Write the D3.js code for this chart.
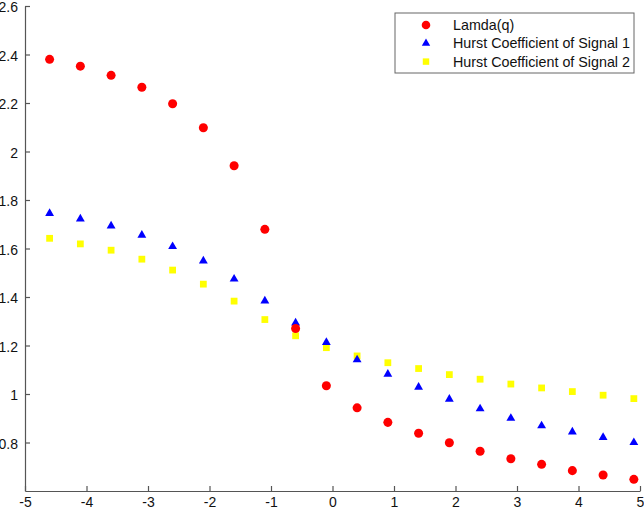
<!DOCTYPE html>
<html>
<head>
<meta charset="utf-8">
<script src="https://cdn.jsdelivr.net/npm/d3@7"></script>
<style>
  body { margin: 0; background: #fff; }
  svg { display: block; font-family: "Liberation Sans", Arial, sans-serif; }
</style>
</head>
<body>
<div id="chart"></div>
<script>
const qValues = [-4.6, -4.1, -3.6, -3.1, -2.6, -2.1, -1.6, -1.1, -0.6, -0.1,
  0.4, 0.9, 1.4, 1.9, 2.4, 2.9, 3.4, 3.9, 4.4, 4.9];
const lamda = [2.38, 2.352, 2.314, 2.265, 2.197, 2.098, 1.941, 1.679, 1.27, 1.034,
  0.943, 0.883, 0.838, 0.799, 0.764, 0.733, 0.71, 0.684, 0.666, 0.648];
const hurst1 = [1.745, 1.722, 1.693, 1.655, 1.608, 1.549, 1.474, 1.384, 1.293, 1.213,
  1.141, 1.082, 1.028, 0.979, 0.939, 0.9, 0.869, 0.844, 0.821, 0.8];
const hurst2 = [1.642, 1.619, 1.593, 1.556, 1.511, 1.453, 1.383, 1.307, 1.24, 1.191,
  1.157, 1.129, 1.105, 1.08, 1.061, 1.041, 1.025, 1.01, 0.995, 0.981];
const seriesNames = ["Lamda(q)", "Hurst Coefficient of Signal 1", "Hurst Coefficient of Signal 2"];
const xTicks = [-5, -4, -3, -2, -1, 0, 1, 2, 3, 4, 5];
const yTicks = [0.8, 1, 1.2, 1.4, 1.6, 1.8, 2, 2.2, 2.4, 2.6];

const width = 644, height = 510;
const margin = { top: 6, right: 4, bottom: 19, left: 25 };

const svg = d3.select("#chart").append("svg")
  .attr("width", width)
  .attr("height", height);

const x = d3.scaleLinear().domain([-5, 5]).range([margin.left, width - margin.right]);
const y = d3.scaleLinear().domain([0.6, 2.6]).range([height - margin.bottom, margin.top]);

// axes, ticks pointing inward like matlab, plain hyphen for minus
const xAxis = svg.append("g")
  .attr("transform", `translate(0,${height - margin.bottom})`)
  .call(d3.axisBottom(x).tickValues(xTicks).tickSizeInner(-5).tickSizeOuter(0).tickPadding(6)
    .tickFormat((d) => String(d)));
const yAxis = svg.append("g")
  .attr("transform", `translate(${margin.left},0)`)
  .call(d3.axisLeft(y).tickValues(yTicks).tickSizeInner(-5).tickSizeOuter(0).tickPadding(7)
    .tickFormat((d) => String(d)));

[xAxis, yAxis].forEach((g) => {
  g.selectAll("path, line").attr("stroke", "#555").attr("stroke-width", 1.2);
  g.selectAll("text").attr("fill", "#111").style("font-size", "14px");
});
xAxis.selectAll("text").attr("dy", "0.71em");
yAxis.selectAll("text").attr("dy", "0.4em");

const series = [
  { name: seriesNames[0], values: lamda, color: "#ff0000", shape: d3.symbolCircle, size: 64 },
  { name: seriesNames[1], values: hurst1, color: "#0000ff", shape: d3.symbolTriangle, size: 34 },
  { name: seriesNames[2], values: hurst2, color: "#ffff00", shape: d3.symbolSquare, size: 46 }
];

// draw back to front so red sits on top
series.slice().reverse().forEach((s) => {
  svg.append("g")
    .selectAll("path")
    .data(s.values.map((v, i) => [qValues[i], v]))
    .join("path")
    .attr("transform", (d) => `translate(${x(d[0])},${y(d[1])})`)
    .attr("d", d3.symbol().type(s.shape).size(s.size))
    .attr("fill", s.color);
});

// legend
const legend = svg.append("g").attr("transform", "translate(395,13)");
legend.append("rect")
  .attr("width", 239)
  .attr("height", 60)
  .attr("fill", "#fff")
  .attr("stroke", "#666")
  .attr("stroke-width", 1);

series.forEach((s, i) => {
  const row = legend.append("g").attr("transform", `translate(0,${12 + i * 18.3})`);
  row.append("path")
    .attr("transform", "translate(31,0)")
    .attr("d", d3.symbol().type(s.shape).size(s.size * 0.9))
    .attr("fill", s.color);
  row.append("text")
    .attr("x", 58)
    .attr("dy", "0.35em")
    .style("font-size", "14.3px")
    .attr("fill", "#111")
    .text(s.name);
});
</script>
</body>
</html>
